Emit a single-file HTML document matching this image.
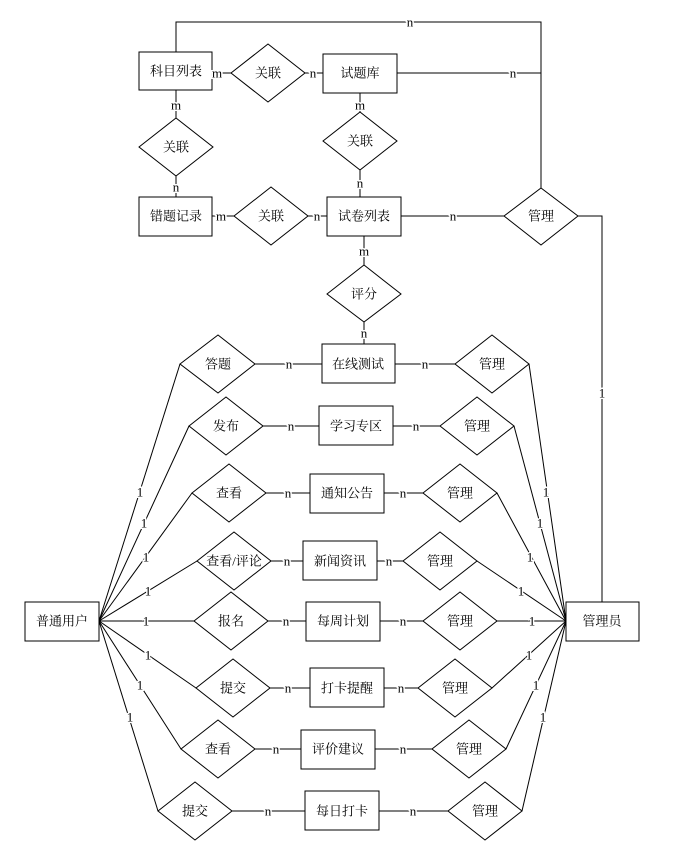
<!DOCTYPE html>
<html><head><meta charset="utf-8"><style>
html,body{margin:0;padding:0;background:#fff}
svg text{font-family:"Liberation Serif","Noto Serif CJK SC","Noto Sans CJK SC",serif;font-size:13px;fill:#000}
.lb{paint-order:stroke;stroke:#fff;stroke-width:3px}
</style></head><body>
<svg width="673" height="855" viewBox="0 0 673 855" xmlns="http://www.w3.org/2000/svg">
<g stroke="#000" stroke-width="1" fill="none">
<!-- top connections -->
<polyline points="176,52 176,22 541,22 541,188"/>
<line x1="397" y1="73" x2="541" y2="73"/>
<polyline points="578,216 602,216 602,602"/>
<line x1="401" y1="216" x2="504" y2="216"/>
<line x1="212" y1="73" x2="231" y2="73"/>
<line x1="305" y1="73" x2="323" y2="73"/>
<line x1="176" y1="90" x2="176" y2="118"/>
<line x1="176" y1="176" x2="176" y2="197"/>
<line x1="360" y1="93" x2="360" y2="112"/>
<line x1="360" y1="170" x2="360" y2="197"/>
<line x1="212" y1="216" x2="234" y2="216"/>
<line x1="308" y1="216" x2="327" y2="216"/>
<line x1="364" y1="236" x2="364" y2="265"/>
<line x1="364" y1="322" x2="364" y2="344"/>
<!-- left fan -->
<line x1="99" y1="621" x2="180" y2="364"/>
<line x1="99" y1="621" x2="189" y2="426"/>
<line x1="99" y1="621" x2="192" y2="493"/>
<line x1="99" y1="621" x2="197" y2="561"/>
<line x1="99" y1="621" x2="194" y2="621"/>
<line x1="99" y1="621" x2="196" y2="688"/>
<line x1="99" y1="621" x2="181" y2="749"/>
<line x1="99" y1="621" x2="158" y2="811"/>
<!-- diamond to entity -->
<line x1="255" y1="364" x2="322" y2="364"/>
<line x1="263" y1="426" x2="319" y2="426"/>
<line x1="266" y1="493" x2="310" y2="493"/>
<line x1="271" y1="561" x2="303" y2="561"/>
<line x1="268" y1="621" x2="306" y2="621"/>
<line x1="270" y1="688" x2="310" y2="688"/>
<line x1="255" y1="749" x2="301" y2="749"/>
<line x1="232" y1="811" x2="305" y2="811"/>
<!-- entity to manage -->
<line x1="395" y1="364" x2="455" y2="364"/>
<line x1="393" y1="426" x2="440" y2="426"/>
<line x1="384" y1="493" x2="423" y2="493"/>
<line x1="377" y1="561" x2="403" y2="561"/>
<line x1="380" y1="621" x2="423" y2="621"/>
<line x1="384" y1="688" x2="418" y2="688"/>
<line x1="375" y1="749" x2="432" y2="749"/>
<line x1="379" y1="811" x2="448" y2="811"/>
<!-- right fan -->
<line x1="529" y1="364" x2="566" y2="621"/>
<line x1="514" y1="426" x2="566" y2="621"/>
<line x1="497" y1="493" x2="566" y2="621"/>
<line x1="477" y1="561" x2="566" y2="621"/>
<line x1="497" y1="621" x2="566" y2="621"/>
<line x1="492" y1="688" x2="566" y2="621"/>
<line x1="506" y1="749" x2="566" y2="621"/>
<line x1="522" y1="811" x2="566" y2="621"/>
</g>
<g stroke="#000" stroke-width="1" fill="#fff">
<rect x="139" y="52" width="73" height="38"/>
<rect x="323" y="54" width="74" height="39"/>
<rect x="139" y="197" width="73" height="39"/>
<rect x="327" y="197" width="74" height="39"/>
<rect x="322" y="344" width="73" height="39"/>
<rect x="319" y="406" width="74" height="39"/>
<rect x="310" y="474" width="74" height="39"/>
<rect x="303" y="541" width="74" height="39"/>
<rect x="306" y="602" width="74" height="39"/>
<rect x="310" y="668" width="74" height="39"/>
<rect x="301" y="730" width="74" height="39"/>
<rect x="305" y="791" width="74" height="39"/>
<rect x="25" y="602" width="74" height="39"/>
<rect x="566" y="602" width="73" height="39"/>
<!-- diamonds: cx,cy half-w 37 half-h 29 -->
<polygon points="231,73 268,44 305,73 268,102"/>
<polygon points="139,147 176,118 213,147 176,176"/>
<polygon points="323,141 360,112 397,141 360,170"/>
<polygon points="234,216 271,187 308,216 271,245"/>
<polygon points="504,216 541,188 578,216 541,245"/>
<polygon points="327,294 364,265 401,294 364,322"/>
<polygon points="180,364 218,335 255,364 218,393"/>
<polygon points="455,364 492,335 529,364 492,393"/>
<polygon points="189,426 226,397 263,426 226,455"/>
<polygon points="440,426 477,397 514,426 477,455"/>
<polygon points="192,493 229,464 266,493 229,522"/>
<polygon points="423,493 460,464 497,493 460,522"/>
<polygon points="197,561 234,532 271,561 234,590"/>
<polygon points="403,561 440,532 477,561 440,590"/>
<polygon points="194,621 231,592 268,621 231,650"/>
<polygon points="423,621 460,592 497,621 460,650"/>
<polygon points="196,688 233,659 270,688 233,717"/>
<polygon points="418,688 455,659 492,688 455,717"/>
<polygon points="181,749 218,720 255,749 218,778"/>
<polygon points="432,749 469,720 506,749 469,778"/>
<polygon points="158,811 195,782 232,811 195,840"/>
<polygon points="448,811 485,782 522,811 485,840"/>
</g>
<g text-anchor="middle" dominant-baseline="central">
<text x="176" y="71">科目列表</text>
<text x="360" y="73">试题库</text>
<text x="176" y="216">错题记录</text>
<text x="364" y="216">试卷列表</text>
<text x="358" y="364">在线测试</text>
<text x="356" y="426">学习专区</text>
<text x="347" y="493">通知公告</text>
<text x="340" y="561">新闻资讯</text>
<text x="343" y="621">每周计划</text>
<text x="347" y="688">打卡提醒</text>
<text x="338" y="749">评价建议</text>
<text x="342" y="811">每日打卡</text>
<text x="62" y="621">普通用户</text>
<text x="602" y="621">管理员</text>
<text x="268" y="73">关联</text>
<text x="176" y="147">关联</text>
<text x="360" y="141">关联</text>
<text x="271" y="216">关联</text>
<text x="541" y="216">管理</text>
<text x="364" y="294">评分</text>
<text x="218" y="364">答题</text>
<text x="492" y="364">管理</text>
<text x="226" y="426">发布</text>
<text x="477" y="426">管理</text>
<text x="229" y="493">查看</text>
<text x="460" y="493">管理</text>
<text x="234" y="561">查看/评论</text>
<text x="440" y="561">管理</text>
<text x="231" y="621">报名</text>
<text x="460" y="621">管理</text>
<text x="233" y="688">提交</text>
<text x="455" y="688">管理</text>
<text x="218" y="749">查看</text>
<text x="469" y="749">管理</text>
<text x="195" y="811">提交</text>
<text x="485" y="811">管理</text>
</g>
<g text-anchor="middle" dominant-baseline="central" class="lbs">
<text class="lb" x="410" y="22">n</text>
<text class="lb" x="513" y="73">n</text>
<text class="lb" x="217" y="73">m</text>
<text class="lb" x="313" y="73">n</text>
<text class="lb" x="176" y="105">m</text>
<text class="lb" x="176" y="187">n</text>
<text class="lb" x="360" y="105">m</text>
<text class="lb" x="360" y="183">n</text>
<text class="lb" x="221" y="216">m</text>
<text class="lb" x="317" y="216">n</text>
<text class="lb" x="453" y="216">n</text>
<text class="lb" x="364" y="251">m</text>
<text class="lb" x="364" y="333">n</text>
<text class="lb" x="602" y="393">1</text>
<text class="lb" x="289" y="364">n</text>
<text class="lb" x="291" y="426">n</text>
<text class="lb" x="288" y="493">n</text>
<text class="lb" x="287" y="561">n</text>
<text class="lb" x="286" y="621">n</text>
<text class="lb" x="288" y="688">n</text>
<text class="lb" x="276" y="749">n</text>
<text class="lb" x="268" y="811">n</text>
<text class="lb" x="425" y="364">n</text>
<text class="lb" x="416" y="426">n</text>
<text class="lb" x="403" y="493">n</text>
<text class="lb" x="389" y="561">n</text>
<text class="lb" x="403" y="621">n</text>
<text class="lb" x="401" y="688">n</text>
<text class="lb" x="403" y="749">n</text>
<text class="lb" x="413" y="811">n</text>
<text class="lb" x="140" y="492">1</text>
<text class="lb" x="144" y="523">1</text>
<text class="lb" x="146" y="557">1</text>
<text class="lb" x="148" y="591">1</text>
<text class="lb" x="146" y="621">1</text>
<text class="lb" x="148" y="655">1</text>
<text class="lb" x="140" y="685">1</text>
<text class="lb" x="130" y="717">1</text>
<text class="lb" x="546" y="492">1</text>
<text class="lb" x="540" y="523">1</text>
<text class="lb" x="530" y="557">1</text>
<text class="lb" x="521" y="591">1</text>
<text class="lb" x="532" y="621">1</text>
<text class="lb" x="529" y="655">1</text>
<text class="lb" x="536" y="685">1</text>
<text class="lb" x="543" y="717">1</text>
</g>
</svg>
</body></html>
